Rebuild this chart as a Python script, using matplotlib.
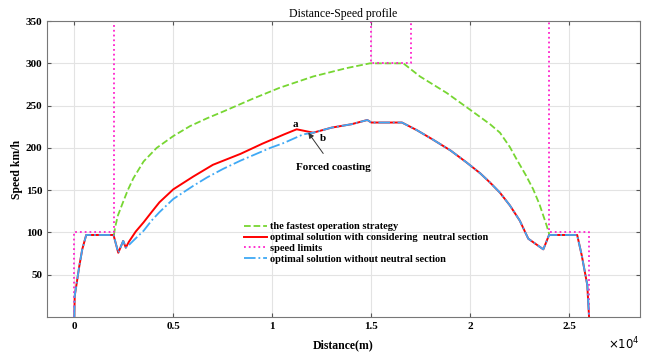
import numpy as np
import matplotlib.pyplot as plt

# speed limits
lim_x = [0, 0, 2000, 2000, 15000, 15000, 17000, 17000, 24000, 24000, 26000, 26000]
lim_v = [0, 100, 100, 350, 350, 300, 300, 350, 350, 100, 100, 0]

# fastest operation strategy
fast_x = [2000, 2060, 2200, 2480, 2700, 2980, 3500, 4160, 5000, 5840, 6700, 7520,
          9000, 10360, 12070, 13760, 14930, 16620, 17460, 18810, 20000, 21000,
          21500, 22000, 22340, 22800, 23180, 23500, 23860, 24000]
fast_v = [97, 106, 120, 137, 150, 164, 184, 200, 214, 225.7, 235, 243,
          258, 271, 284.5, 294.4, 300, 300, 284.5, 265, 245, 228,
          218, 201, 186.6, 168, 151, 133, 108, 97]

# optimal solution with neutral section
red_x = [0, 20, 120, 250, 400, 600, 1980, 2220, 2470, 2600, 2750, 3100, 3500,
         3900, 4300, 5000, 6000, 7000, 8400, 9500, 10600, 11230, 12070, 13000,
         14000, 14800, 15000, 16550, 17300, 18100, 19000, 19800, 20500, 21000,
         21500, 22000, 22500, 22930, 23690, 23980, 25400, 25630, 25910, 26000]
red_v = [0, 25, 40, 60, 80, 97, 97, 76, 90, 82, 88.7, 101, 112,
         124, 135.7, 151, 166, 180, 193, 205, 216, 222, 218, 224,
         228, 233, 230, 230, 221, 210, 197, 183, 170, 159,
         147, 132, 114, 92.6, 80, 97, 97, 73, 38, 0]

# optimal solution without neutral section
blue_x = [0, 20, 120, 250, 400, 600, 1980, 2220, 2470, 2600, 2750, 3100, 3500,
          3900, 4300, 5000, 6000, 6700, 7500, 8400, 9900, 10600, 11560, 12070,
          13000, 14000, 14800, 15000, 16550, 17300, 18100, 19000, 19800, 20500,
          21000, 21500, 22000, 22500, 22930, 23690, 23980, 25400, 25630, 25910,
          26000]
blue_v = [0, 25, 40, 60, 80, 97, 97, 76, 90, 82, 85, 93, 102,
          114, 124, 139.6, 155, 165, 175, 185, 200, 206, 216, 218,
          224, 228, 233, 230, 230, 221, 210, 197, 183, 170,
          159, 147, 132, 114, 92.6, 80, 97, 97, 73, 38,
          0]

xticks = [0, 5000, 10000, 15000, 20000, 25000]
xtick_labels = ['0', '0.5', '1', '1.5', '2', '2.5']
yticks = [50, 100, 150, 200, 250, 300, 350]

plt.rcParams['font.family'] = ['Liberation Serif', 'DejaVu Serif']

fig = plt.figure(figsize=(6.51, 3.54), dpi=100)
ax = fig.add_axes([0.0722, 0.1045, 0.9108, 0.836])

ax.plot(fast_x, fast_v, '--', color='#77d632', lw=1.3, label='the fastest operation strategy')
ax.plot(red_x, red_v, '-', color='#ff0000', lw=1.4,
        label='optimal solution with considering  neutral section')
ax.plot(lim_x, lim_v, ':', color='#ff22cc', lw=1.3, label='speed limits')
ax.plot(blue_x, blue_v, '-.', color='#3fa9f5', lw=1.3,
        label='optimal solution without neutral section')

ax.set_xlim(-1380, 28570)
ax.set_ylim(0, 350)
ax.set_xticks(xticks)
ax.set_xticklabels(xtick_labels)
ax.set_yticks(yticks)
ax.grid(True, color='#e3e3e3', lw=0.8)
ax.set_axisbelow(True)
ax.tick_params(direction='in', top=True, right=True, length=3, color='#555555',
               labelsize=8)
for lbl in ax.get_xticklabels() + ax.get_yticklabels():
    lbl.set_fontweight('bold')
for s in ax.spines.values():
    s.set_color('#777777')

ax.set_title('Distance-Speed profile', fontsize=8.5, pad=3)
ax.set_xlabel('Distance(m)', fontsize=8.5, fontweight='bold', labelpad=6)
ax.set_ylabel('Speed km/h', fontsize=8.5, fontweight='bold', labelpad=2)
ax.text(1.0, -0.09, r'$\times10^4$', transform=ax.transAxes, ha='right',
        va='center', fontsize=8.5)

ax.text(11146, 227.6, 'a', fontsize=8, fontweight='bold', ha='center', va='center')
ax.text(12576, 211, 'b', fontsize=8, fontweight='bold', ha='center', va='center')
ax.annotate('Forced coasting', xy=(11818, 218), xytext=(13081, 176.8),
            fontsize=8, fontweight='bold', ha='center', va='center',
            arrowprops=dict(arrowstyle='-|>', color='#333333', lw=0.7,
                            mutation_scale=8, shrinkA=6, shrinkB=0))

leg = ax.legend(loc='upper left', bbox_to_anchor=(0.325, 0.335), frameon=False,
                fontsize=7.5, handlelength=2.2, handletextpad=0.3,
                labelspacing=0.15, borderaxespad=0)
for t in leg.get_texts():
    t.set_fontweight('bold')

fig.savefig('out.png', dpi=100)
